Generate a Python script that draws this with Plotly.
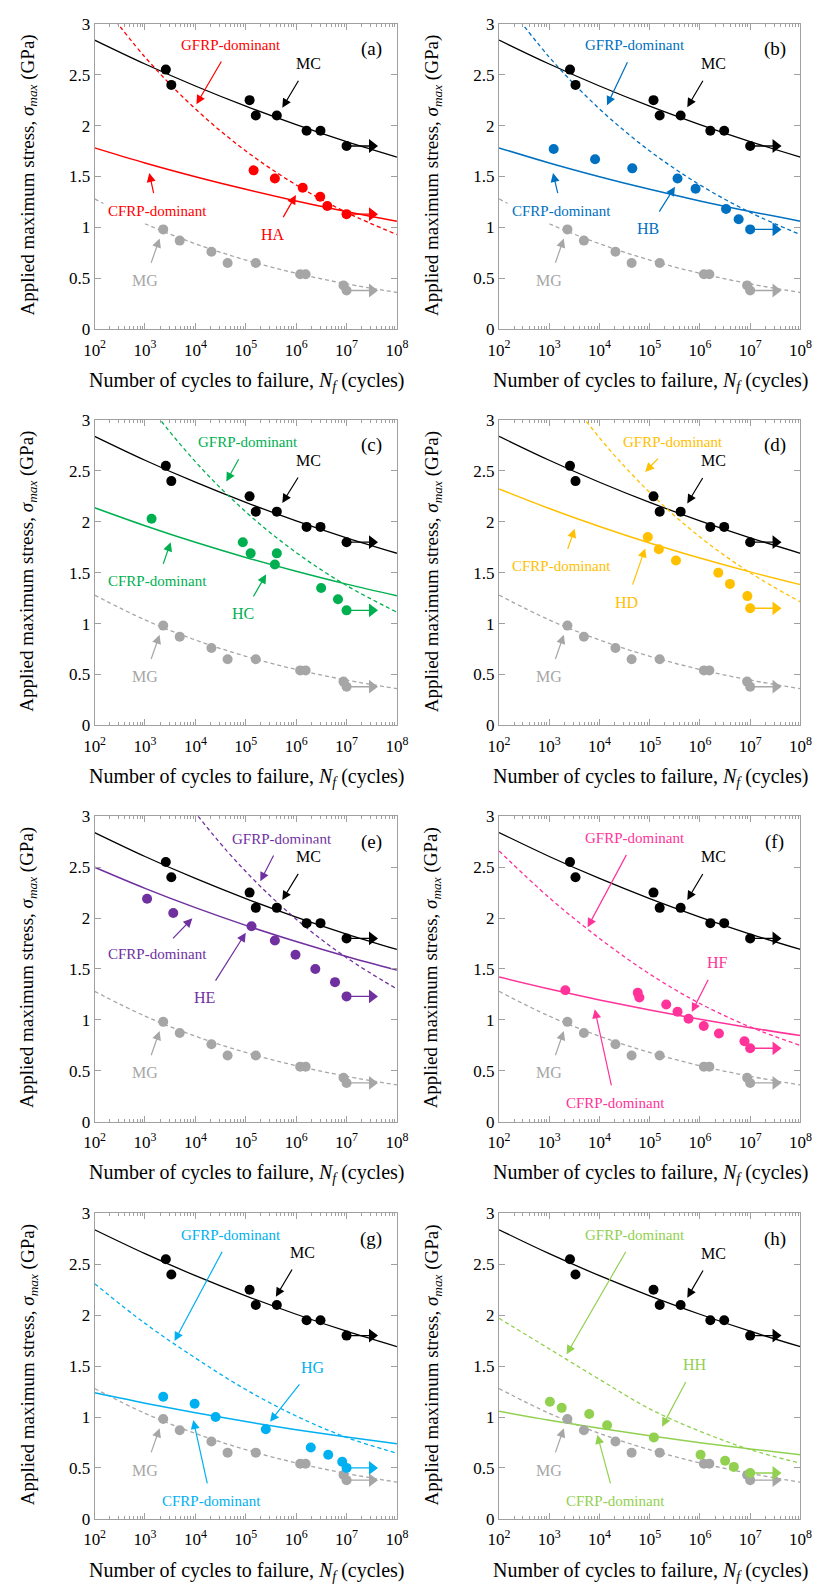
import plotly.graph_objects as go

FONT = "Liberation Serif"

# ---------------- data ----------------
FIT_N = [1e2, 1e3, 1e4, 1e5, 1e6, 1e7, 1e8]
MC_FIT = [2.84, 2.605, 2.389, 2.191, 2.010, 1.843, 1.691]
MG_FIT = [1.28, 1.036, 0.839, 0.679, 0.549, 0.445, 0.360]

MC_N = [2590, 3330, 1.19e5, 1.58e5, 4.13e5, 1.61e6, 3.04e6, 1e7]
MC_S = [2.55, 2.40, 2.25, 2.10, 2.10, 1.95, 1.95, 1.80]
MG_N = [2300, 4890, 20800, 43600, 1.58e5, 1.2e6, 1.54e6, 8.7e6, 1e7]
MG_S = [0.98, 0.87, 0.76, 0.65, 0.65, 0.54, 0.54, 0.43, 0.38]

HA_N = [1.43e5, 3.78e5, 1.35e6, 3.0e6, 4.15e6, 1e7]
HA_S = [1.56, 1.48, 1.39, 1.30, 1.21, 1.13]
HB_N = [1225, 8170, 45000, 3.58e5, 8.2e5, 3.31e6, 5.9e6, 1e7]
HB_S = [1.77, 1.67, 1.58, 1.48, 1.38, 1.18, 1.08, 0.98]
HC_N = [1350, 87300, 1.25e5, 3.78e5, 4.13e5, 3.13e6, 6.76e6, 1e7]
HC_S = [2.03, 1.80, 1.69, 1.58, 1.69, 1.35, 1.24, 1.13]
HD_N = [91600, 1.52e5, 3.33e5, 2.32e6, 3.96e6, 8.8e6, 1e7]
HD_S = [1.85, 1.73, 1.62, 1.50, 1.39, 1.27, 1.15]
HE_N = [1100, 3640, 1.3e5, 3.78e5, 9.7e5, 2.4e6, 5.9e6, 1e7]
HE_S = [2.19, 2.05, 1.92, 1.78, 1.64, 1.50, 1.37, 1.23]
HF_N = [2090, 57800, 62300, 2.13e5, 3.58e5, 5.93e5, 1.19e6, 2.39e6, 7.7e6, 1e7]
HF_S = [1.29, 1.265, 1.22, 1.15, 1.08, 1.01, 0.94, 0.865, 0.79, 0.72]
HG_N = [2300, 9660, 25200, 2.5e5, 1.95e6, 4.33e6, 8.2e6, 1e7]
HG_S = [1.20, 1.13, 1.00, 0.88, 0.70, 0.63, 0.56, 0.50]
HH_N = [1030, 1770, 6250, 14200, 1.21e5, 1.03e6, 3.17e6, 4.73e6, 1e7]
HH_S = [1.15, 1.09, 1.03, 0.92, 0.80, 0.63, 0.57, 0.51, 0.45]

# run-out (no failure) arrows end at this cycle count
RUNOUT_TO = 3.2e7

# fitted curves read at each decade (CFRP-dominant solid, GFRP-dominant dashed)
HA_CFRP = [1.781, 1.633, 1.498, 1.374, 1.260, 1.156, 1.060]
HA_GFRP = [3.302, 2.673, 2.164, 1.751, 1.417, 1.147, 0.929]
HB_CFRP = [1.781, 1.633, 1.498, 1.374, 1.260, 1.156, 1.060]
HB_GFRP = [3.302, 2.673, 2.164, 1.751, 1.417, 1.147, 0.929]
HC_CFRP = [2.139, 1.962, 1.799, 1.650, 1.514, 1.388, 1.273]
HC_GFRP = [3.955, 3.201, 2.591, 2.098, 1.698, 1.374, 1.112]
HD_CFRP = [2.323, 2.131, 1.954, 1.792, 1.644, 1.508, 1.383]
HD_GFRP = [4.314, 3.491, 2.826, 2.288, 1.851, 1.499, 1.213]
HE_CFRP = [2.499, 2.292, 2.102, 1.928, 1.769, 1.622, 1.488]
HE_GFRP = [4.634, 3.750, 3.036, 2.457, 1.989, 1.610, 1.303]
HF_CFRP = [1.420, 1.303, 1.195, 1.096, 1.005, 0.922, 0.846]
HF_GFRP = [2.66, 2.20, 1.80, 1.45, 1.16, 0.93, 0.748]
HG_CFRP = [1.238, 1.136, 1.042, 0.955, 0.876, 0.804, 0.737]
HG_GFRP = [2.31, 1.92, 1.58, 1.27, 1.01, 0.80, 0.644]
HH_CFRP = [1.056, 0.969, 0.889, 0.815, 0.748, 0.686, 0.629]
HH_GFRP = [1.97, 1.67, 1.37, 1.08, 0.86, 0.68, 0.545]

X_TICKS = [1e2, 1e3, 1e4, 1e5, 1e6, 1e7, 1e8]
X_TICKTEXT = ["10<sup>2</sup>", "10<sup>3</sup>", "10<sup>4</sup>", "10<sup>5</sup>",
              "10<sup>6</sup>", "10<sup>7</sup>", "10<sup>8</sup>"]
Y_TICKS = [0, 0.5, 1, 1.5, 2, 2.5, 3]
Y_TICKTEXT = ["0", "0.5", "1", "1.5", "2", "2.5", "3"]

GRAY = "#a6a6a6"
FRAME = "#a0a0a0"

# panel specs; label layout given as (log10 N, GPa) for text and arrow tip
PANELS = [
    dict(tag="(a)", name="HA", color="#ff0000", N=HA_N, S=HA_S, cf=HA_CFRP, gf=HA_GFRP,
         g_txt=(4.71, 2.795), g_tip=(4.02, 2.21),
         c_txt=(3.246, 1.165), c_tip=(3.085, 1.534),
         h_txt=(5.545, 0.93), h_tip=(5.995, 1.317),
         mc_txt=(6.25, 2.61), mc_tip=(5.725, 2.175)),
    dict(tag="(b)", name="HB", color="#0070c0", N=HB_N, S=HB_S, cf=HB_CFRP, gf=HB_GFRP,
         g_txt=(4.717, 2.79), g_tip=(4.15, 2.20),
         c_txt=(3.25, 1.165), c_tip=(3.075, 1.534),
         h_txt=(4.975, 0.985), h_tip=(5.503, 1.40),
         mc_txt=(6.263, 2.61), mc_tip=(5.748, 2.18)),
    dict(tag="(c)", name="HC", color="#00b050", N=HC_N, S=HC_S, cf=HC_CFRP, gf=HC_GFRP,
         g_txt=(5.044, 2.78), g_tip=(4.614, 2.396),
         c_txt=(3.246, 1.419), c_tip=(3.509, 1.80),
         h_txt=(4.954, 1.096), h_tip=(5.404, 1.484),
         mc_txt=(6.25, 2.605), mc_tip=(5.725, 2.185)),
    dict(tag="(d)", name="HD", color="#ffc000", N=HD_N, S=HD_S, cf=HD_CFRP, gf=HD_GFRP,
         g_txt=(5.47, 2.78), g_tip=(4.91, 2.49),
         c_txt=(3.25, 1.564), c_tip=(3.507, 1.933),
         h_txt=(4.537, 1.209), h_tip=(4.91, 1.739),
         mc_txt=(6.263, 2.60), mc_tip=(5.748, 2.18)),
    dict(tag="(e)", name="HE", color="#7030a0", N=HE_N, S=HE_S, cf=HE_CFRP, gf=HE_GFRP,
         g_txt=(5.725, 2.781), g_tip=(5.288, 2.361),
         c_txt=(3.246, 1.642), c_tip=(3.94, 1.997),
         h_txt=(4.184, 1.216), h_tip=(5.0, 1.855),
         mc_txt=(6.25, 2.603), mc_tip=(5.725, 2.177)),
    dict(tag="(f)", name="HF", color="#ff3399", N=HF_N, S=HF_S, cf=HF_CFRP, gf=HF_GFRP,
         g_txt=(4.717, 2.787), g_tip=(3.764, 1.91),
         c_txt=(4.312, 0.184), c_tip=(3.906, 1.103),
         h_txt=(6.34, 1.565), h_tip=(5.838, 1.077),
         mc_txt=(6.263, 2.603), mc_tip=(5.748, 2.177)),
    dict(tag="(g)", name="HG", color="#00b0f0", N=HG_N, S=HG_S, cf=HG_CFRP, gf=HG_GFRP,
         g_txt=(4.71, 2.79), g_tip=(3.586, 1.746),
         c_txt=(4.312, 0.178), c_tip=(3.959, 0.97),
         h_txt=(6.329, 1.487), h_tip=(5.481, 0.953),
         mc_txt=(6.123, 2.619), mc_tip=(5.597, 2.182)),
    dict(tag="(h)", name="HH", color="#92d050", N=HH_N, S=HH_S, cf=HH_CFRP, gf=HH_GFRP,
         g_txt=(4.717, 2.79), g_tip=(3.346, 1.616),
         c_txt=(4.312, 0.178), c_tip=(3.957, 0.825),
         h_txt=(5.902, 1.516), h_tip=(5.246, 0.905),
         mc_txt=(6.263, 2.61), mc_tip=(5.748, 2.173)),
]

# ---------------- layout geometry (pixels) ----------------
W, H = 826, 1595
COL_L = [86, 502]
COL_W = [311, 310]
ROW_T = [15, 416, 817, 1219]
ROW_H = 309

MINOR = [k * 10 ** d for d in range(2, 8) for k in range(2, 10)]

fig = go.Figure()
annotations = []
layout = dict(
    width=W, height=H, margin=dict(l=0, r=0, t=0, b=0),
    paper_bgcolor="white", plot_bgcolor="white", showlegend=False,
    font=dict(family=FONT, size=16, color="black"),
)


def pointer(ax_id, txt, tip, text, color, size=15):
    """Text label with an arrow pointing from the label to the tip."""
    return dict(xref=f"x{ax_id}", yref=f"y{ax_id}", axref=f"x{ax_id}", ayref=f"y{ax_id}",
                x=tip[0], y=tip[1], ax=txt[0], ay=txt[1], text=text,
                font=dict(family=FONT, size=size, color=color),
                bgcolor="white", borderpad=4,
                showarrow=True, arrowhead=2, arrowsize=1.5, arrowwidth=1.2,
                arrowcolor=color, standoff=0, startstandoff=5)


for i, p in enumerate(PANELS):
    n = i + 1
    sfx = "" if n == 1 else str(n)
    r, c = i // 2, i % 2
    x0 = COL_L[c] / W
    x1 = (COL_L[c] + COL_W[c]) / W
    y1 = 1 - ROW_T[r] / H
    y0 = 1 - (ROW_T[r] + ROW_H) / H
    xa, ya = f"x{sfx}", f"y{sfx}"
    col = p["color"]

    # fitted curves
    fig.add_trace(go.Scatter(x=FIT_N, y=MG_FIT, mode="lines",
                             line=dict(color=GRAY, width=1.3, dash="4px,3px", shape="spline"), xaxis=xa, yaxis=ya))
    fig.add_trace(go.Scatter(x=FIT_N, y=MC_FIT, mode="lines",
                             line=dict(color="black", width=1.3, shape="spline"), xaxis=xa, yaxis=ya))
    fig.add_trace(go.Scatter(x=FIT_N, y=p["gf"], mode="lines",
                             line=dict(color=col, width=1.3, dash="4px,3px", shape="spline"), xaxis=xa, yaxis=ya))
    fig.add_trace(go.Scatter(x=FIT_N, y=p["cf"], mode="lines",
                             line=dict(color=col, width=1.5, shape="spline"), xaxis=xa, yaxis=ya))

    # run-out arrows (line + triangular head)
    for s_end, ccol in ((MG_S[-1], GRAY), (MC_S[-1], "black"), (p["S"][-1], col)):
        fig.add_trace(go.Scatter(x=[1e7, RUNOUT_TO], y=[s_end, s_end], mode="lines",
                                 line=dict(color=ccol, width=1.4), xaxis=xa, yaxis=ya))
        fig.add_trace(go.Scatter(x=[RUNOUT_TO], y=[s_end], mode="markers",
                                 marker=dict(symbol="triangle-right", size=12, color=ccol),
                                 xaxis=xa, yaxis=ya))

    # data points
    fig.add_trace(go.Scatter(x=MG_N, y=MG_S, mode="markers", marker=dict(color=GRAY, size=10), xaxis=xa, yaxis=ya))
    fig.add_trace(go.Scatter(x=MC_N, y=MC_S, mode="markers", marker=dict(color="black", size=10), xaxis=xa, yaxis=ya))
    fig.add_trace(go.Scatter(x=p["N"], y=p["S"], mode="markers", marker=dict(color=col, size=10), xaxis=xa, yaxis=ya))

    layout[f"xaxis{sfx}"] = dict(
        type="log", range=[2, 8], domain=[x0, x1], anchor=ya,
        tickmode="array", tickvals=X_TICKS, ticktext=X_TICKTEXT,
        ticks="inside", ticklen=6, tickcolor=FRAME, tickwidth=1,
        showline=True, linecolor=FRAME, linewidth=1, mirror="allticks",
        showgrid=False, zeroline=False, ticklabelstandoff=5,
        tickfont=dict(family=FONT, size=17, color="black"),
        minor=dict(tickmode="array", tickvals=MINOR, ticks="inside", ticklen=3,
                   tickcolor=FRAME, showgrid=False),
    )
    layout[f"yaxis{sfx}"] = dict(
        range=[0, 3], domain=[y0, y1], anchor=xa,
        tickmode="array", tickvals=Y_TICKS, ticktext=Y_TICKTEXT,
        ticks="inside", ticklen=6, tickcolor=FRAME, tickwidth=1,
        showline=True, linecolor=FRAME, linewidth=1, mirror="allticks",
        showgrid=False, zeroline=False,
        tickfont=dict(family=FONT, size=17, color="black"),
    )

    # labels with pointer arrows
    annotations.append(pointer(sfx, p["g_txt"], p["g_tip"], "GFRP-dominant", col))
    annotations.append(pointer(sfx, p["c_txt"], p["c_tip"], "CFRP-dominant", col))
    annotations.append(pointer(sfx, p["h_txt"], p["h_tip"], p["name"], col, size=16))
    annotations.append(pointer(sfx, p["mc_txt"], p["mc_tip"], "MC", "black", size=16))
    annotations.append(pointer(sfx, (3.0, 0.478), (3.29, 0.89), "MG", GRAY, size=16))
    annotations.append(dict(xref=f"x{sfx}", yref=f"y{sfx}", x=7.49, y=2.75, text=p["tag"],
                            showarrow=False, xanchor="center", yanchor="middle",
                            font=dict(family=FONT, size=19, color="black")))

    # axis titles (paper coords)
    cx = (COL_L[c] + COL_W[c] / 2 + 1) / W
    annotations.append(dict(xref="paper", yref="paper", x=cx, y=1 - (ROW_T[r] + 362) / H,
                            text="Number of cycles to failure, <i>N<sub>f</sub></i> (cycles)",
                            showarrow=False, xanchor="center", yanchor="middle",
                            font=dict(family=FONT, size=20, color="black")))
    annotations.append(dict(xref="paper", yref="paper", x=(COL_L[c] - 68) / W,
                            y=1 - (ROW_T[r] + 153) / H,
                            text="Applied maximum stress, <i>σ<sub>max</sub></i> (GPa)",
                            textangle=-90, showarrow=False, xanchor="center", yanchor="middle",
                            font=dict(family=FONT, size=19, color="black")))

layout["annotations"] = annotations
fig.update_layout(**layout)
fig.write_html("out.html")
